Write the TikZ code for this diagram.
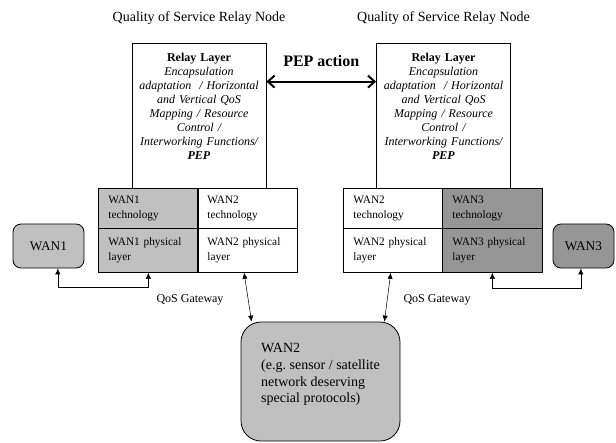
\documentclass[tikz,border=0pt]{standalone}
\usepackage{fontspec}
\setmainfont{Liberation Serif}
\usetikzlibrary{arrows, arrows.meta, positioning}
\frenchspacing

\definecolor{wangray}{RGB}{192,192,192}
\definecolor{wandark}{RGB}{150,150,150}

\tikzset{
  relaybox/.style={draw, line width=0.6pt, minimum width=100.5pt, minimum height=108.75pt,
    text width=94pt, align=center, inner sep=0pt, text depth=87pt,
    font=\fontsize{9}{10.5}\selectfont},
  celltop/.style={draw, line width=0.6pt, anchor=north west, minimum width=74.25pt,
    minimum height=30pt, text width=60pt, inner xsep=7.5pt, inner ysep=0pt, align=left,
    font=\fontsize{8.5}{11.25}\selectfont},
  cellbot/.style={celltop, minimum height=33pt},
  wanbox/.style={draw, line width=0.6pt, rounded corners=6pt, minimum height=33pt,
    font=\fontsize{10}{12}\selectfont},
  caption/.style={font=\fontsize{10.5}{12}\selectfont},
  gate/.style={font=\fontsize{9}{11}\selectfont},
}

\begin{document}
\begin{tikzpicture}[x=0.75pt, y=-0.75pt, >={Latex[length=4.5pt,width=4pt]}, node distance=10pt]
        \useasboundingbox (0,0) rectangle (616,442);
        % relay nodes
        \node[relaybox] (relayL) at (199,115.5) {\textbf{Relay Layer}\\ \textit{Encapsulation\\ adaptation\ \ / Horizontal\\ and Vertical QoS\\ Mapping / Resource\\ Control /\\ Interworking Functions/\\ \textbf{PEP}}};
        \node[relaybox] (relayR) at (443.5,115.5) {\textbf{Relay Layer}\\ \textit{Encapsulation\\ adaptation\ \ / Horizontal\\ and Vertical QoS\\ Mapping / Resource\\ Control /\\ Interworking Functions/\\ \textbf{PEP}}};
        \node[caption] (titleL) [above=of relayL] {Quality of Service Relay Node};
        \node[caption] (titleR) [above=of relayR] {Quality of Service Relay Node};
        % left gateway table
        \node[celltop, fill=wangray] (techL1) at (98,188) {WAN1\\ technology};
        \node[celltop] (techL2) at (197,188) {WAN2\\ technology};
        \node[cellbot, fill=wangray] (physL1) at (98,228) {WAN1 physical\\ layer};
        \node[cellbot] (physL2) at (197,228) {WAN2 physical\\ layer};
        % right gateway table
        \node[celltop] (techR1) at (343,188) {WAN2\\ technology};
        \node[celltop, fill=wandark] (techR2) at (442,188) {WAN3\\ technology};
        \node[cellbot] (physR1) at (343,228) {WAN2 physical\\ layer};
        \node[cellbot, fill=wandark] (physR2) at (442,228) {WAN3 physical\\ layer};
        % networks
        \node[wanbox, fill=wangray, minimum width=53.25pt] (wan1) at (48.5,246) {WAN1};
        \node[wanbox, fill=wandark, minimum width=45.75pt] (wan3) at (583.5,246) {WAN3};
        \node[wanbox, fill=wangray, rounded corners=15pt, minimum width=119.25pt, minimum height=89.25pt,
          align=left, text depth=12.5pt,
          font=\fontsize{10.5}{12.5}\selectfont] (wan2) at (320.5,381.5)
          {WAN2\\ (e.g. sensor / satellite\\ network deserving\\ special protocols)};
        \node[gate] (gateL) at (190,300) {QoS Gateway};
        \node[gate] (gateR) at (437,300) {QoS Gateway};
        % connectors
        \draw[{Straight Barb[length=5pt,width=9pt]}-{Straight Barb[length=5pt,width=9pt]}, line width=1.5pt]
          ([yshift=-29.25pt]relayL.north east) -- ([yshift=-29.25pt]relayR.north west)
          node[midway, above=7pt, font=\fontsize{12}{14}\selectfont\bfseries] (pep) {PEP action};
        \draw[<->] ([xshift=7pt]wan1.south) -- ++(0,19) -| (physL1.south);
        \draw[<->] (physR2.south) -- ++(0,15) -| ([xshift=-2pt]wan3.south);
        \draw[<->] ([xshift=-2.5pt]physL2.south) -- ([xshift=8.25pt]wan2.north west);
        \draw[<->] ([xshift=-2pt]physR1.south) -- ([xshift=-12pt]wan2.north east);
\end{tikzpicture}
\end{document}
